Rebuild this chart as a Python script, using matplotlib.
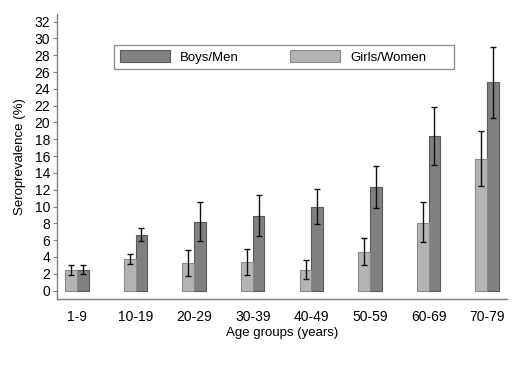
import matplotlib.pyplot as plt
from matplotlib.patches import Rectangle
import numpy as np

# data
age_groups = ['1-9', '10-19', '20-29', '30-39', '40-49', '50-59', '60-69', '70-79']

girls = [2.4, 3.8, 3.3, 3.4, 2.5, 4.6, 8.1, 15.7]
girls_lo = [1.8, 3.2, 1.7, 1.8, 1.4, 3.0, 5.8, 12.4]
girls_hi = [3.0, 4.4, 4.8, 5.0, 3.7, 6.3, 10.5, 19.0]

boys = [2.5, 6.6, 8.2, 8.9, 9.9, 12.3, 18.4, 24.8]
boys_lo = [2.0, 5.9, 5.9, 6.5, 7.9, 9.8, 14.9, 20.5]
boys_hi = [3.1, 7.4, 10.6, 11.4, 12.1, 14.8, 21.9, 29.0]

plt.rcParams['font.family'] = ['Liberation Sans', 'DejaVu Sans']

fig = plt.figure(figsize=(5.21, 3.79), dpi=100)
ax = fig.add_axes([0.1094, 0.211, 0.864, 0.752])

x = np.arange(len(age_groups))
w = 0.2
girls = np.array(girls)
boys = np.array(boys)
g_err = [girls - np.array(girls_lo), np.array(girls_hi) - girls]
b_err = [boys - np.array(boys_lo), np.array(boys_hi) - boys]

ax.bar(x + w / 2, boys, w, color='#808080', edgecolor='#5a5a5a', linewidth=0.8, label='Boys/Men')
ax.bar(x - w / 2, girls, w, color='#b4b4b4', edgecolor='#8a8a8a', linewidth=0.8, label='Girls/Women')
ax.errorbar(x - w / 2, girls, yerr=g_err, fmt='none', ecolor='#111111', elinewidth=1, capsize=2.5, capthick=1)
ax.errorbar(x + w / 2, boys, yerr=b_err, fmt='none', ecolor='#111111', elinewidth=1, capsize=2.5, capthick=1)

ax.set_xlim(-0.34, len(age_groups) - 1 + 0.34)
ax.set_ylim(-1.0, 32.9)
ax.set_yticks(np.arange(0, 33, 2))
ax.set_xticks(x)
ax.set_xticklabels(age_groups)
ax.tick_params(axis='x', length=0, labelsize=10, pad=8)
ax.tick_params(axis='y', length=3, width=0.8, color='#808080', labelsize=10, pad=2)

for s in ['top', 'right']:
    ax.spines[s].set_visible(False)
for s in ['left', 'bottom']:
    ax.spines[s].set_color('#808080')
    ax.spines[s].set_linewidth(1)

ax.set_ylabel('Seroprevalence (%)', fontsize=9.5, labelpad=6)
ax.set_xlabel('Age groups (years)', fontsize=9.5, labelpad=2)

# legend box drawn separately (padding is wider on the right)
ax.add_patch(Rectangle((0.1267, 0.807), 0.7555, 0.084, transform=ax.transAxes,
                       facecolor='white', edgecolor='#909090', linewidth=1, zorder=4))
leg = ax.legend(loc='center left', ncol=2, bbox_to_anchor=(0.14, 0.849),
                borderaxespad=0, borderpad=0, fontsize=9.5, frameon=False,
                handlelength=3.8, handleheight=1.0, handletextpad=0.76, columnspacing=3.85)
leg.set_zorder(5)

plt.savefig('out.png', dpi=100)
